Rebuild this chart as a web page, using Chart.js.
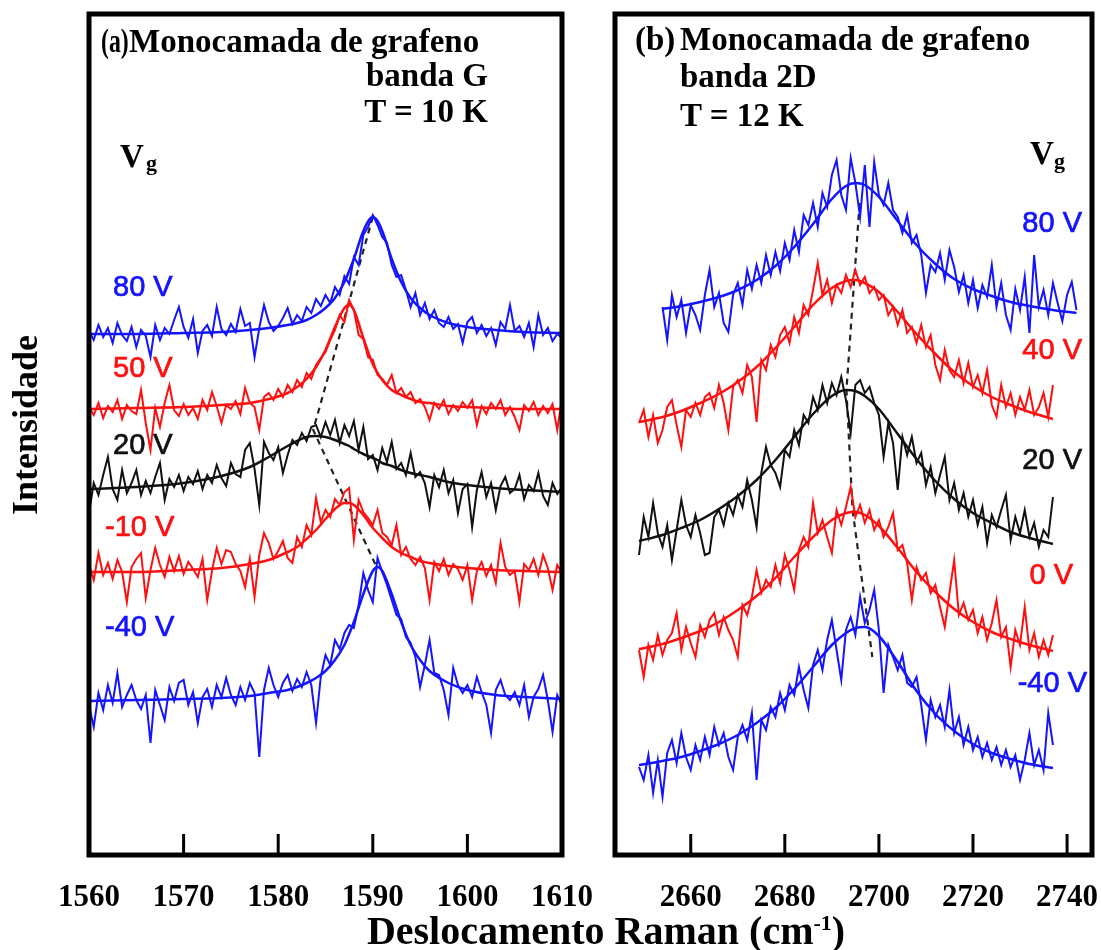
<!DOCTYPE html>
<html>
<head>
<meta charset="utf-8">
<script src="https://cdn.jsdelivr.net/npm/chart.js@4.4.1/dist/chart.umd.min.js"></script>
<style>
body { margin: 0; background: #fff; }
#wrap { position: relative; width: 1101px; height: 950px; overflow: hidden; }
canvas { position: absolute; top: 0; }
.t { position: absolute; white-space: nowrap; line-height: 1; }
.serif { font-family: "Liberation Serif", "Times New Roman", serif; font-weight: bold; color: #000; }
.sans { font-family: "Liberation Sans", Arial, sans-serif; font-size: 29px; -webkit-text-stroke: 0.7px currentColor; }
</style>
</head>
<body>
<div id="wrap">
  <canvas id="panelA" width="600" height="950" style="left:0"></canvas>
  <canvas id="panelB" width="501" height="950" style="left:600px"></canvas>

  <!-- panel (a) texts -->
  <div class="t serif" style="left:101px;top:25px;font-size:33px;transform:scaleX(0.72);transform-origin:left">(a)</div>
  <div class="t serif" style="left:129px;top:25px;font-size:33px">Monocamada de grafeno</div>
  <div class="t serif" style="right:613px;top:59px;font-size:33px">banda G</div>
  <div class="t serif" style="right:613px;top:95px;font-size:33px">T = 10 K</div>
  <div class="t serif" style="left:120px;top:140px;font-size:33px">V</div>
  <div class="t serif" style="left:146px;top:152px;font-size:22px">g</div>

  <!-- panel (b) texts -->
  <div class="t serif" style="left:635px;top:23px;font-size:33px">(b)</div>
  <div class="t serif" style="left:680px;top:23px;font-size:33px">Monocamada de grafeno</div>
  <div class="t serif" style="left:680px;top:60px;font-size:33px">banda 2D</div>
  <div class="t serif" style="left:680px;top:99px;font-size:33px">T = 12 K</div>
  <div class="t serif" style="left:1030px;top:137px;font-size:33px">V</div>
  <div class="t serif" style="left:1054px;top:150px;font-size:22px">g</div>

  <!-- gate voltage labels -->
  <div class="t sans" style="left:113px;top:272px;color:#1414ff">80 V</div>
  <div class="t sans" style="left:113px;top:353px;color:#ff1010">50 V</div>
  <div class="t sans" style="left:113px;top:430px;color:#111">20 V</div>
  <div class="t sans" style="left:105px;top:512px;color:#ff1010">-10 V</div>
  <div class="t sans" style="left:105px;top:612px;color:#1414ff">-40 V</div>

  <div class="t sans" style="right:19px;top:208px;color:#1414ff">80 V</div>
  <div class="t sans" style="right:19px;top:335px;color:#ff1010">40 V</div>
  <div class="t sans" style="right:19px;top:445px;color:#111">20 V</div>
  <div class="t sans" style="right:28px;top:560px;color:#ff1010">0 V</div>
  <div class="t sans" style="right:14px;top:668px;color:#1414ff">-40 V</div>

  <!-- axis titles -->
  <div class="t serif" style="left:306px;top:911px;width:600px;text-align:center;font-size:40px">Deslocamento Raman (cm<sup style="font-size:0.55em;line-height:0">-1</sup>)</div>
  <div class="t serif" style="left:-125px;top:407px;width:300px;text-align:center;font-size:36px;transform:rotate(-90deg)">Intensidade</div>
</div>

<script>
const BLUE = "#1414ff", RED = "#ff1010", BLACK = "#111111";

/* ---------- PANEL (a): banda G ---------- */
const ticksA = [1560, 1570, 1580, 1590, 1600, 1610];
const rawStartA = 1560, rawStepA = 0.5, rawEndA = 1610;

const rawA80 = [524,515,530,518,527,512,532,520,514,528,
  508,525,519,498,530,515,527,521,535,548,
  528,517,536,502,524,530,519,548,526,520,
  531,523,546,529,532,498,527,550,533,524,
  529,537,547,531,540,534,548,542,556,549,
  560,552,568,560,579,571,598,590,620,628,
  640,630,618,612,590,578,580,565,548,562,
  540,552,536,545,532,528,538,526,531,512,
  533,538,522,530,519,527,510,533,526,550,
  524,529,518,532,508,540,520,527,514,521,
  517];
const rawA50 = [448,440,452,437,449,443,455,436,450,444,
  441,465,432,405,447,428,452,470,445,439,
  451,440,447,436,455,445,463,449,432,450,
  446,454,441,467,452,448,425,458,462,455,
  466,458,470,463,475,468,482,476,490,497,
  503,515,525,540,533,555,545,520,516,498,
  495,480,476,470,480,462,467,458,463,452,
  456,448,435,452,446,455,441,450,444,453,
  447,455,430,449,441,452,446,455,440,448,
  438,425,450,444,453,440,449,442,451,425,
  457];
const rawA20 = [342,372,360,380,398,366,355,385,362,372,
  385,360,374,362,378,392,355,376,368,380,
  364,378,371,384,366,380,372,390,377,369,
  392,381,378,405,412,386,350,413,402,395,
  408,382,400,415,410,422,414,428,430,418,
  433,420,435,412,430,419,434,405,428,396,
  400,385,407,393,413,386,392,380,402,378,
  383,372,348,380,368,385,362,375,342,366,
  371,328,365,383,358,372,345,369,378,362,
  366,380,356,370,364,382,359,350,372,361,
  368];
const rawAm10 = [290,275,302,280,292,276,295,283,253,288,
  296,302,257,285,307,290,278,298,284,299,
  281,293,286,278,296,255,284,307,291,305,
  303,291,284,268,296,258,300,322,312,296,
  304,314,297,292,318,308,330,320,357,333,
  345,338,356,350,363,367,315,355,343,337,
  330,345,322,318,310,330,300,308,296,290,
  298,287,255,293,284,296,280,291,286,275,
  290,255,284,293,279,290,272,312,288,280,
  284,253,291,285,296,280,300,287,265,290,
  282];
const rawAm40 = [150,128,162,145,170,152,182,148,160,170,
  155,146,160,112,165,150,135,168,154,172,
  175,150,163,132,158,166,148,170,158,177,
  160,150,168,155,172,162,98,165,187,170,
  158,172,180,164,176,168,183,170,132,178,
  200,190,215,206,222,230,227,250,282,265,
  253,297,283,270,255,240,236,218,212,198,
  168,190,215,182,180,165,140,187,170,162,
  170,158,178,163,150,122,165,175,160,155,
  163,150,170,138,158,166,180,155,123,160,
  150];

const fitXA = [1560,1565,1570,1574,1577,1579,1581,1582,1583,1584,1585,1586,1587,1587.5,
  1588,1589,1590,1590.5,1591,1592,1593,1594,1595,1596,1598,1600,1603,1606,1610];
const fitA80 = [521,521,522,523,525,527,530,532,535,540,547,557,573,584,596,624,638,634,624,596,573,557,547,540,532,528,525,523,522];
const fitA50 = [446,447,448,450,452,456,462,468,476,488,505,528,547,550,545,517,491,482,475,465,460,456,453,452,449,448,447,446,446];
const fitA20 = [366,368,372,379,388,398,409,414,418,419,418,415,411,409,406,401,397,395,392,389,385,382,380,378,373,370,367,365,363];
const fitAm10 = [283,283,285,287,291,295,303,308,316,325,336,346,352,352,350,340,327,322,317,308,302,298,294,292,289,287,285,284,283];
const fitAm40 = [154,155,156,157,159,162,165,168,172,177,184,195,210,221,233,261,284,288,284,261,233,210,195,184,172,165,160,158,156];

const peakXA = [1590, 1583.7, 1590.4];
const peakYA = [638, 425, 288];

/* ---------- PANEL (b): banda 2D ---------- */
const ticksB = [2660, 2680, 2700, 2720, 2740];
const rawStartB = 2649, rawStepB = 1, rawEndB = 2742;

const rawB80 = [null,null,null,null,null,
  548,515,560,538,555,522,550,540,525,560,
  585,548,562,532,523,560,572,550,585,566,
  590,572,600,580,603,584,612,595,625,603,
  640,630,652,628,662,648,680,695,660,645,
  697,672,638,690,628,693,660,650,672,645,
  638,622,640,612,620,600,562,590,583,602,
  575,605,588,563,580,552,575,547,570,558,
  590,548,572,540,525,566,545,578,522,600,
  548,565,540,572,552,534,560,573,545];
const rawB40 = [432,445,418,440,412,425,448,455,430,408,
  445,438,452,440,458,462,447,470,452,425,
  468,475,462,490,478,433,495,485,510,498,
  520,528,512,538,522,550,540,565,592,560,
  575,552,570,562,580,568,585,570,578,562,
  568,555,560,540,548,530,545,522,528,512,
  530,508,520,490,475,505,485,478,495,472,
  492,468,480,462,485,450,438,470,448,462,
  440,458,445,465,440,448,462,438,470,
  null,null,null,null,null];
const rawB20 = [300,338,318,352,322,308,330,295,325,355,
  330,318,340,322,300,302,338,345,330,352,
  340,360,348,375,355,328,382,408,390,382,
  368,405,398,425,410,440,432,458,445,470,
  452,472,460,478,455,422,470,475,462,468,
  452,440,398,432,412,365,418,400,418,392,
  402,370,388,362,380,398,355,372,345,362,
  338,355,330,348,312,340,328,345,360,315,
  338,322,345,318,332,308,325,318,358,
  null,null,null,null,null];
const rawB0 = [205,178,210,195,220,200,215,222,242,205,
  228,212,198,230,218,235,242,220,238,225,
  215,198,250,240,258,285,262,275,268,290,
  272,300,285,265,305,318,308,352,322,335,
  318,302,345,330,348,368,338,350,332,345,
  325,335,318,328,342,305,310,292,255,288,
  275,282,262,270,248,228,262,295,240,252,
  235,245,222,238,215,232,255,218,228,188,
  225,210,248,205,222,198,215,200,220,
  null,null,null,null,null];
const rawBm40 = [88,75,100,62,95,58,102,115,92,122,
  98,85,110,95,118,100,128,110,122,98,
  85,118,130,115,142,75,135,125,148,138,
  162,145,170,160,188,165,147,190,205,185,
  215,235,205,175,225,238,220,258,232,245,
  265,225,162,210,198,185,200,172,168,178,
  150,115,155,138,150,128,165,122,138,110,
  128,105,118,98,112,95,108,90,105,88,
  100,75,95,122,90,105,85,142,110,
  null,null,null,null,null];

const fitXB = [2649,2654,2658,2662,2666,2670,2674,2678,2682,2686,2690,2693,2695,2697,2700,2704,2708,2712,2716,2720,2724,2728,2732,2737,2742];
const fitB80 = [null,546,549,553,558,565,575,589,608,631,656,669,672,670,658,634,610,591,576,566,559,553,549,545,542];
const fitB40 = [433,438,444,452,461,473,488,507,528,550,567,574,575,572,563,543,521,501,483,469,458,450,443,436,null];
const fitB20 = [314,320,327,335,346,359,375,395,418,441,459,465,464,459,446,421,396,374,356,342,332,323,317,311,null];
const fitB0 = [206,211,217,224,233,245,259,277,298,318,335,342,343,340,329,307,283,263,246,233,223,216,210,204,null];
const fitBm40 = [90,94,98,104,111,120,132,147,166,188,210,222,227,228,219,193,164,141,124,111,102,96,91,87,null];

const peakXB = [2695.9, 2693.1, 2694.4, 2698.6];
const peakYB = [652, 465, 345, 198];

/* ---------- helpers ---------- */
function grid(start, step, end) {
    const xs = [];
    for (let x = start; x <= end + 1e-9; x += step) xs.push(Math.round(x * 10) / 10);
    return xs;
}
function pts(xs, ys) {
    return xs.map((x, i) => ({ x: x, y: ys[i] }));
}
function raw(xs, ys, color) {
    return { data: pts(xs, ys), borderColor: color, borderWidth: 2, tension: 0, pointRadius: 0 };
}
function fit(xs, ys, color) {
    return { data: pts(xs, ys), borderColor: color, borderWidth: 2.5, cubicInterpolationMode: "monotone", pointRadius: 0 };
}
function dashed(xs, ys) {
    return { data: pts(xs, ys), borderColor: "#222", borderWidth: 2.2, borderDash: [6, 5], tension: 0, pointRadius: 0 };
}

/* frame box + inward bottom ticks */
const frame = {
    id: "frame",
    afterDatasetsDraw(chart) {
        const { ctx, chartArea: a, scales: { x } } = chart;
        ctx.save();
        ctx.strokeStyle = "#000";
        ctx.lineWidth = 3;
        x.ticks.forEach(t => {
            const px = x.getPixelForValue(t.value);
            if (px > a.left + 5 && px < a.right - 5) {
                ctx.beginPath();
                ctx.moveTo(px, a.bottom);
                ctx.lineTo(px, a.bottom - 21);
                ctx.stroke();
            }
        });
        ctx.lineWidth = 5;
        ctx.strokeRect(a.left, a.top, a.right - a.left, a.bottom - a.top);
        ctx.restore();
    }
};

function makePanel(id, xMin, xMax, ticks, datasets, pad) {
    return new Chart(document.getElementById(id), {
        type: "line",
        data: { datasets },
        options: {
            responsive: false,
            animation: false,
            devicePixelRatio: 1,
            layout: { padding: pad },
            plugins: { legend: { display: false }, tooltip: { enabled: false } },
            scales: {
                x: {
                    type: "linear", min: xMin, max: xMax,
                    afterBuildTicks: s => { s.ticks = ticks.map(v => ({ value: v })); },
                    afterFit: s => { s.height = 60; s.paddingLeft = 0; s.paddingRight = 0; },
                    grid: { display: false, drawTicks: false },
                    border: { display: false },
                    ticks: {
                        padding: 24, color: "#000", maxRotation: 0,
                        callback: v => String(v),
                        font: { family: "Liberation Serif", weight: "bold", size: 31 }
                    }
                },
                y: { display: false, min: 0, max: 841 }
            }
        },
        plugins: [frame]
    });
}

const xA = grid(rawStartA, rawStepA, rawEndA);
makePanel("panelA", 1560, 1610, ticksA, [
    raw(xA, rawA80, BLUE), fit(fitXA, fitA80, BLUE),
    raw(xA, rawA50, RED), fit(fitXA, fitA50, RED),
    raw(xA, rawA20, BLACK), fit(fitXA, fitA20, BLACK),
    raw(xA, rawAm10, RED), fit(fitXA, fitAm10, RED),
    raw(xA, rawAm40, BLUE), fit(fitXA, fitAm40, BLUE),
    dashed(peakXA, peakYA)
], { left: 89, right: 38, top: 14, bottom: 35 });

const xB = grid(rawStartB, rawStepB, rawEndB);
makePanel("panelB", 2643.9, 2745.3, ticksB, [
    raw(xB, rawB80, BLUE), fit(fitXB, fitB80, BLUE),
    raw(xB, rawB40, RED), fit(fitXB, fitB40, RED),
    raw(xB, rawB20, BLACK), fit(fitXB, fitB20, BLACK),
    raw(xB, rawB0, RED), fit(fitXB, fitB0, RED),
    raw(xB, rawBm40, BLUE), fit(fitXB, fitBm40, BLUE),
    dashed(peakXB, peakYB)
], { left: 15, right: 9, top: 14, bottom: 35 });
</script>
</body>
</html>
